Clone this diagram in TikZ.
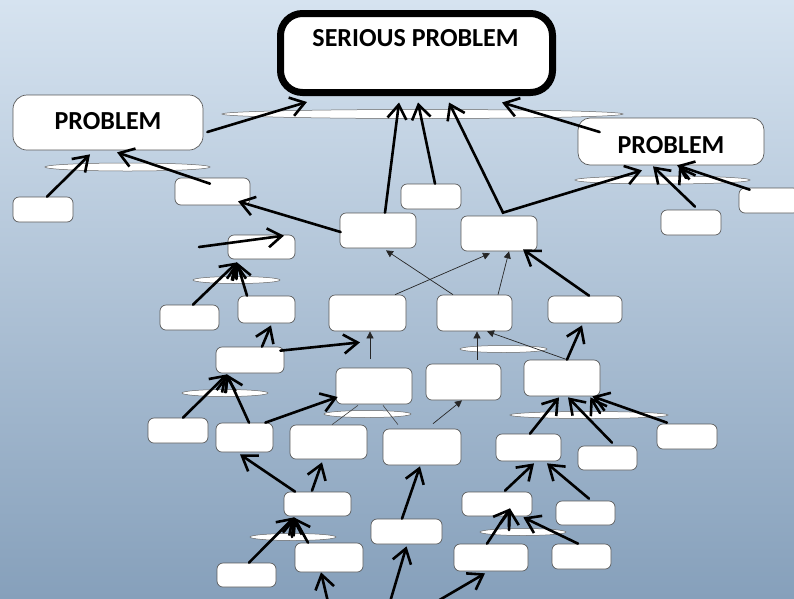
\documentclass[tikz,border=0pt]{standalone}
\usepackage{fontspec}
\setmainfont{Carlito}
\usetikzlibrary{arrows.meta,shapes.geometric}
\definecolor{bgtop}{RGB}{214,227,240}
\definecolor{bgmid}{RGB}{178,203,226}
\definecolor{bgbot}{RGB}{134,160,187}
\definecolor{boxline}{RGB}{90,90,90}
\tikzset{
  box/.style={draw=boxline, fill=white, line width=0.7pt, rounded corners=6pt, inner sep=0pt},
  bigbox/.style={box, rounded corners=14pt},
  ell/.style={ellipse, draw=gray!80!black, fill=white, line width=0.5pt, inner sep=0pt},
  ttl/.style={font=\fontsize{26pt}{30pt}\selectfont\bfseries, inner sep=0pt},
  ta/.style={line width=2.6pt, line cap=round, -{Straight Barb[length=14pt,width=19pt]}},
  tab/.style={line width=2.6pt, line cap=round, {Straight Barb[length=14pt,width=19pt]}-{Straight Barb[length=14pt,width=19pt]}},
  thn/.style={line width=0.7pt, draw=black!85, -{Triangle[length=7pt,width=7pt]}},
  thl/.style={line width=0.6pt, draw=black!75}
}
\begin{document}
\begin{tikzpicture}[x=1pt,y=-1pt]
\clip (0,0) rectangle (794,598);
\shade[top color=bgtop, middle color=bgmid, bottom color=bgbot] (0,0) rectangle (794,598);

% ellipses
\node[ell, minimum width=401pt, minimum height=9pt] (E0) at (422.5,114) {};
\node[ell, minimum width=165pt, minimum height=8pt] (E1) at (127.5,167) {};
\node[ell, minimum width=175pt, minimum height=8pt] (E2) at (662.5,180) {};
\node[ell, minimum width=87pt, minimum height=7pt] (E3) at (236.5,280) {};
\node[ell, minimum width=87pt, minimum height=7pt] (E4) at (503.5,349) {};
\node[ell, minimum width=86pt, minimum height=7pt] (E5) at (225,393) {};
\node[ell, minimum width=87pt, minimum height=7pt] (E6) at (367.5,414) {};
\node[ell, minimum width=158pt, minimum height=7pt] (E7) at (589,415) {};
\node[ell, minimum width=86pt, minimum height=7pt] (E8) at (293,537) {};
\node[ell, minimum width=86pt, minimum height=7pt] (E9) at (523,532) {};

% main boxes
\node[draw, line width=7pt, fill=white, rounded corners=22pt, minimum width=272pt, minimum height=79pt, inner sep=0pt] (SP) at (416.5,53) {};
\node[bigbox, minimum width=190pt, minimum height=55pt] (PL) at (108,122.5) {};
\node[bigbox, rounded corners=12pt, minimum width=186pt, minimum height=47pt] (PR) at (671,141.5) {};
\node[ttl] (spt) at (415.5,38.5) {SERIOUS PROBLEM};
\node[ttl] (plt) at (108,121.5) {PROBLEM};
\node[ttl] (prt) at (671,145) {PROBLEM};

% small boxes
\node[box, minimum width=60pt, minimum height=25pt] (B1) at (43,209.5) {};
\node[box, minimum width=75pt, minimum height=27pt] (B2) at (212.5,191.5) {};
\node[box, minimum width=60pt, minimum height=25pt] (B3) at (431,196.5) {};
\node[box, minimum width=76pt, minimum height=35pt] (B4) at (378,230.5) {};
\node[box, minimum width=76pt, minimum height=35pt] (B5) at (499,233.5) {};
\node[box, minimum width=60pt, minimum height=25pt] (B6) at (691,222.5) {};
\node[box, minimum width=60pt, minimum height=25pt] (B7) at (769,200.5) {};
\node[box, minimum width=67pt, minimum height=24pt] (B8) at (261.5,247) {};
\node[box, minimum width=59pt, minimum height=25pt] (B9) at (189.5,317.5) {};
\node[box, minimum width=57pt, minimum height=27pt] (B10) at (266.5,309.5) {};
\node[box, minimum width=77pt, minimum height=36pt] (B11) at (367.5,313) {};
\node[box, minimum width=75pt, minimum height=36pt] (B12) at (474.5,313) {};
\node[box, minimum width=74pt, minimum height=27pt] (B13) at (585,309.5) {};
\node[box, minimum width=68pt, minimum height=26pt] (B14) at (250,360) {};
\node[box, minimum width=76pt, minimum height=36pt] (B15) at (374,386) {};
\node[box, minimum width=75pt, minimum height=36pt] (B16) at (463.5,382) {};
\node[box, minimum width=76pt, minimum height=36pt] (B17) at (562,378) {};
\node[box, minimum width=60pt, minimum height=25pt] (B18) at (178,430.5) {};
\node[box, minimum width=57pt, minimum height=29pt] (B19) at (244.5,437.5) {};
\node[box, minimum width=77pt, minimum height=34pt] (B20) at (328.5,442) {};
\node[box, minimum width=78pt, minimum height=36pt] (B21) at (422,447) {};
\node[box, minimum width=65pt, minimum height=27pt] (B22) at (528.5,447.5) {};
\node[box, minimum width=59pt, minimum height=24pt] (B23) at (607.5,458) {};
\node[box, minimum width=60pt, minimum height=25pt] (B24) at (687,436.5) {};
\node[box, minimum width=67pt, minimum height=24pt] (B25) at (317.5,504) {};
\node[box, minimum width=59pt, minimum height=24pt] (B26) at (246.5,575) {};
\node[box, minimum width=68pt, minimum height=29pt] (B27) at (329,557.5) {};
\node[box, minimum width=71pt, minimum height=25pt] (B28) at (406.5,531.5) {};
\node[box, minimum width=70pt, minimum height=24pt] (B29) at (497,504) {};
\node[box, minimum width=74pt, minimum height=27pt] (B30) at (491,557.5) {};
\node[box, minimum width=59pt, minimum height=25pt] (B31) at (581.5,556.5) {};
\node[box, minimum width=59pt, minimum height=24pt] (B32) at (585.5,513) {};

% free ends
\coordinate (c1) at (199,247);
\coordinate (c3) at (370,359);
\coordinate (c4) at (328,602);
\coordinate (c5) at (390,602);
\coordinate (c6) at (436,602);

% thick arrows to SERIOUS PROBLEM
\draw[ta] ([xshift=4pt,yshift=-9.5pt]PL.east) -- ([xshift=-109.5pt,yshift=-6pt]SP.south);
\draw[ta] ([xshift=7pt]B4.north) -- ([xshift=-17.5pt,yshift=-6.5pt]SP.south);
\draw[ta] ([xshift=4pt]B3.north) -- ([xshift=1.5pt,yshift=-6.5pt]SP.south);
\draw[tab] ([xshift=32.5pt,yshift=-6.5pt]SP.south) -- ([xshift=4pt,yshift=3pt]B5.north) -- ([xshift=-29pt,yshift=-5pt]PR.south);
\draw[ta] ([xshift=22pt,yshift=9.5pt]PR.west) -- ([xshift=85.5pt,yshift=-6.5pt]SP.south);

% left PROBLEM
\draw[ta] ([xshift=4pt]B1.north) -- ([xshift=-18pt,yshift=-4pt]PL.south);
\draw[ta] ([xshift=-2.5pt,yshift=-6pt]B2.north) -- ([xshift=9pt,yshift=-2pt]PL.south);
\draw[ta] ([xshift=1pt,yshift=-1.5pt]B4.west) -- ([xshift=25.5pt,yshift=4pt]B2.south);

% B8 cluster
\draw[ta] (c1) -- ([xshift=22.5pt,yshift=-1pt]B8.north);
\draw[ta] ([xshift=3.5pt]B9.north) -- ([xshift=-24.5pt,yshift=-3pt]B8.south);
\draw[ta] ([xshift=-19.5pt]B10.north) -- ([xshift=-24.5pt,yshift=-3pt]B8.south);
\draw[ta] ([yshift=1pt]E3.center) -- ([xshift=-25pt,yshift=-3pt]B8.south);
\draw[ta] ([xshift=12pt]B14.north) -- ([xshift=4.5pt,yshift=-2pt]B10.south);

% B14 cluster
\draw[ta] ([xshift=-4pt,yshift=-4pt]B14.north east) -- ([xshift=-7.5pt,yshift=-11pt]B11.south);
\draw[thn] (c3) -- ([xshift=2.5pt]B11.south);
\draw[ta] ([xshift=5pt]B18.north) -- ([xshift=-23pt,yshift=-1pt]B14.south);
\draw[ta] ([xshift=4.5pt]B19.north) -- ([xshift=-23pt,yshift=-1pt]B14.south);
\draw[ta] ([xshift=1pt,yshift=1pt]E5.center) -- ([xshift=-23pt,yshift=-1pt]B14.south);
\draw[ta] ([xshift=-8pt]B19.north east) -- ([xshift=2pt,yshift=-11pt]B15.west);

% B25 cluster
\draw[ta] ([xshift=-22.5pt]B25.north) -- ([xshift=-4.5pt,yshift=-2pt]B19.south);
\draw[ta] ([xshift=-5.5pt,yshift=1pt]B25.north) -- ([xshift=-6.5pt,yshift=-3pt]B20.south);
\draw[ta] ([xshift=2.5pt]B26.north) -- ([xshift=-23.5pt,yshift=-1pt]B25.south);
\draw[ta] ([xshift=-1pt]E8.center) -- ([xshift=-23.5pt,yshift=-1pt]B25.south);
\draw[ta] ([xshift=-21pt]B27.north) -- ([xshift=-23.5pt,yshift=-1pt]B25.south);
\draw[ta] (c4) -- ([xshift=-8pt]B27.south);
\draw[ta] (c5) -- ([yshift=-2pt]B28.south);
\draw[ta] ([xshift=-4.5pt]B28.north) -- ([xshift=-2pt,yshift=-1pt]B21.south);

% thin connectors in the middle
\draw[thl] ([xshift=3.5pt]B20.north) -- ([xshift=-16pt,yshift=-1pt]B15.south);
\draw[thl] ([xshift=9pt,yshift=-1pt]B15.south) -- ([xshift=-24pt,yshift=4pt]B21.north);
\draw[thn] ([xshift=11pt,yshift=5pt]B21.north) -- ([xshift=-1.5pt]B16.south);
\draw[thn] ([xshift=13.5pt,yshift=4pt]B16.north) -- ([xshift=2.5pt]B12.south);
\draw[thn] ([xshift=5pt]B17.north) -- ([xshift=12.5pt]B12.south);
\draw[thn] ([xshift=-21.5pt]B12.north) -- ([xshift=8pt,yshift=-2pt]B4.south);
\draw[thn] ([xshift=27.5pt]B11.north) -- ([xshift=-9pt,yshift=-2pt]B5.south);
\draw[thn] ([xshift=23.5pt]B12.north) -- ([xshift=10pt]B5.south);

% right side
\draw[ta] ([xshift=5pt]B17.north) -- ([xshift=-3pt,yshift=-2pt]B13.south);
\draw[ta] ([xshift=4pt]B13.north) -- ([xshift=24pt,yshift=2pt]B5.south);
\draw[ta] ([xshift=1.5pt]B22.north) -- ([xshift=-3pt,yshift=-1pt]B17.south);
\draw[ta] ([xshift=4.5pt,yshift=3pt]B23.north) -- ([xshift=6pt,yshift=-1pt]B17.south);
\draw[ta] ([xshift=-20pt,yshift=1pt]B24.north) -- ([xshift=-8pt]B17.south east);
\draw[ta] ([xshift=11pt,yshift=2pt]E7.center) -- ([xshift=-10pt,yshift=-1pt]B17.south east);
\draw[ta] ([xshift=8pt,yshift=1pt]B29.north) -- ([xshift=5.5pt,yshift=-2pt]B22.south);
\draw[ta] ([xshift=3.5pt,yshift=2pt]B32.north) -- ([xshift=18.5pt,yshift=-2pt]B22.south);
\draw[ta] ([xshift=-4pt]B30.north) -- ([xshift=13pt,yshift=8pt]B29.south);
\draw[ta] ([xshift=-3.5pt]B31.north) -- ([xshift=-9pt,yshift=-1pt]B29.south east);
\draw[ta] ([xshift=-14pt,yshift=2pt]E9.center) -- ([xshift=13pt,yshift=8pt]B29.south);
\draw[ta] (c6) -- ([xshift=-6pt,yshift=-2pt]B30.south);

% right PROBLEM
\draw[ta] ([xshift=4pt,yshift=3pt]B6.north) -- ([xshift=-18pt,yshift=-1pt]PR.south);
\draw[ta] ([xshift=11pt,yshift=-2pt]B7.north west) -- ([xshift=6pt]PR.south);
\draw[ta] ([xshift=23.5pt,yshift=2pt]E2.center) -- ([xshift=8pt,yshift=-1pt]PR.south);
\end{tikzpicture}
\end{document}
